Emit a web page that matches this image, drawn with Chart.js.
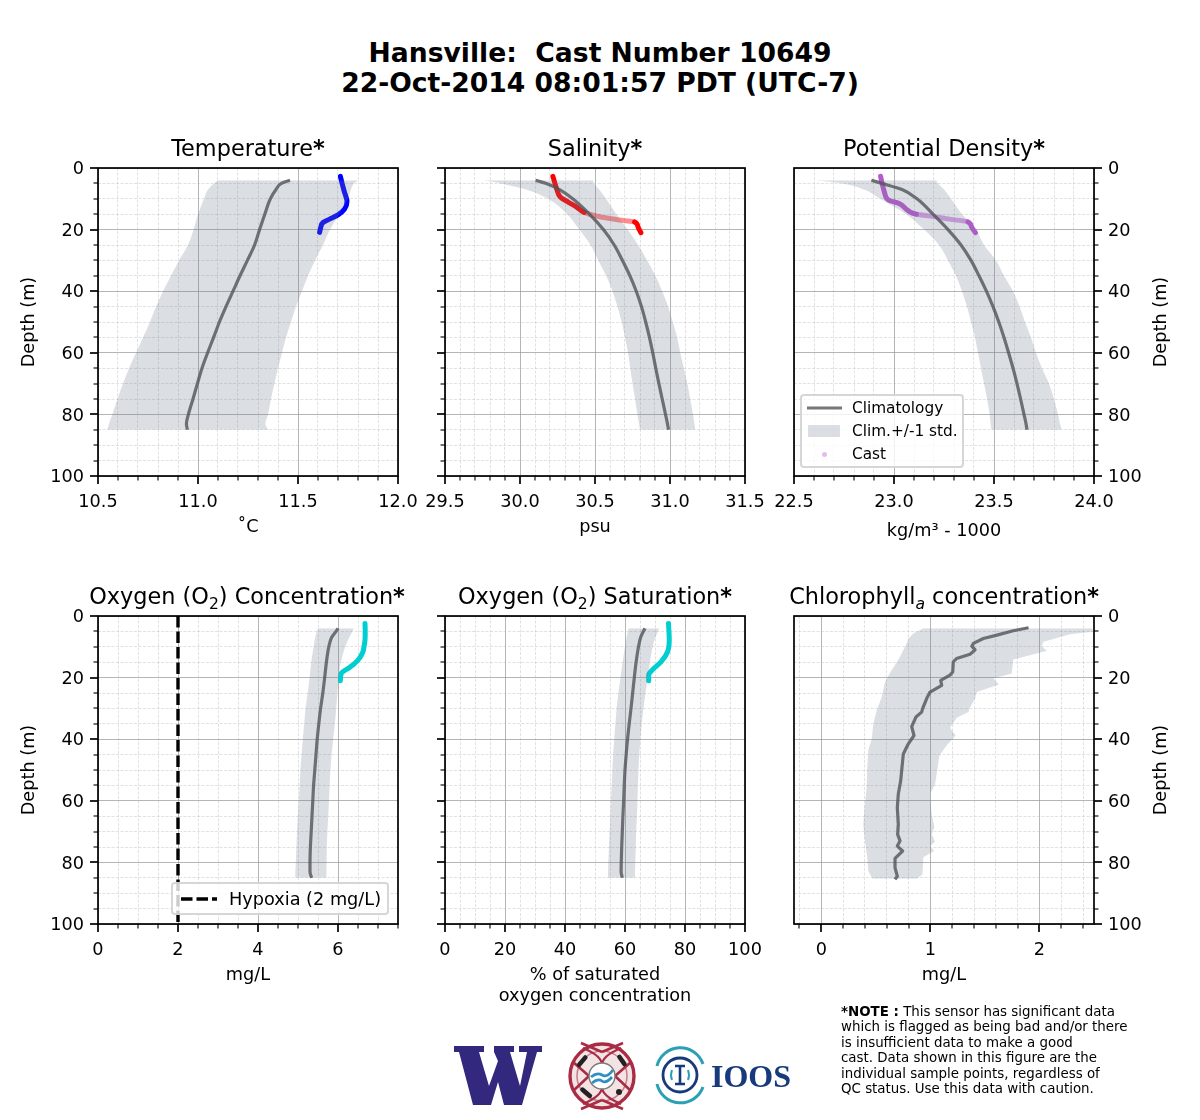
<!DOCTYPE html>
<html>
<head>
<meta charset="utf-8">
<title>Hansville Cast 10649</title>
<script src="https://cdn.jsdelivr.net/npm/chart.js@4/dist/chart.umd.min.js"></script>
<style>
  html, body { margin: 0; padding: 0; background: #fff; }
  body { width: 1200px; height: 1120px; position: relative; overflow: hidden; font-family: "DejaVu Sans", sans-serif; color: #000; }
  canvas { position: absolute; }
  .main-title { position: absolute; left: 0; top: 38px; width: 1200px; text-align: center; font-weight: bold; font-size: 26.6px; line-height: 30px; white-space: pre; }
  .panel-title { position: absolute; text-align: center; font-size: 22.4px; line-height: 26px; white-space: nowrap; }
  .panel-title sub { font-size: 15.6px; line-height: 0; }
  .y-title { position: absolute; font-size: 17.7px; line-height: 20px; width: 120px; text-align: center; transform: rotate(-90deg); white-space: nowrap; }
  .legend { position: absolute; box-sizing: border-box; background: rgba(255,255,255,.8); border: 2px solid rgba(204,204,204,.8); border-radius: 4px; white-space: nowrap; }
  .legend span { position: absolute; }
  .legend svg { position: absolute; overflow: visible; }
  .note { position: absolute; left: 841px; top: 1004px; font-size: 13.4px; line-height: 15.4px; white-space: pre; }
  .logos { position: absolute; left: 0; top: 0; }
</style>
</head>
<body>
<div class="main-title">Hansville:  Cast Number 10649
22-Oct-2014 08:01:57 PDT (UTC-7)</div>

<canvas id="tempChart"></canvas>
<canvas id="salChart"></canvas>
<canvas id="densChart"></canvas>
<canvas id="o2Chart"></canvas>
<canvas id="satChart"></canvas>
<canvas id="chlChart"></canvas>

<div class="panel-title" style="left:98px;top:135px;width:300px">Temperature<b>*</b></div>
<div class="panel-title" style="left:445px;top:135px;width:300px">Salinity<b>*</b></div>
<div class="panel-title" style="left:794px;top:135px;width:300px">Potential Density<b>*</b></div>
<div class="panel-title" style="left:47px;top:583px;width:400px">Oxygen (O<sub>2</sub>) Concentration<b>*</b></div>
<div class="panel-title" style="left:395px;top:583px;width:400px">Oxygen (O<sub>2</sub>) Saturation<b>*</b></div>
<div class="panel-title" style="left:744px;top:583px;width:400px">Chlorophyll<sub><i>a</i></sub> concentration<b>*</b></div>

<div class="y-title" style="left:-32px;top:312px">Depth (m)</div>
<div class="y-title" style="left:1100px;top:312px">Depth (m)</div>
<div class="y-title" style="left:-32px;top:760px">Depth (m)</div>
<div class="y-title" style="left:1100px;top:760px">Depth (m)</div>

<div class="legend" style="left:800px;top:394px;width:164px;height:74px;font-size:15.3px;line-height:18px">
  <svg style="left:0;top:0" width="30" height="10"><line x1="5" y1="12" x2="40" y2="12" stroke="#777" stroke-width="3"/></svg>
  <span style="left:50px;top:3px">Climatology</span>
  <span style="left:6px;top:29px;width:32px;height:12px;background:rgba(112,128,144,.25)"></span>
  <span style="left:50px;top:26px">Clim.+/-1 std.</span>
  <span style="left:20px;top:56px;width:5px;height:5px;border-radius:50%;background:rgba(186,85,211,.4)"></span>
  <span style="left:50px;top:49px">Cast</span>
</div>
<div class="legend" style="left:171px;top:882px;width:218px;height:33px;font-size:17.7px;line-height:20px">
  <svg style="left:0;top:0" width="50" height="30"><line x1="8" y1="15" x2="44" y2="15" stroke="#000" stroke-width="3.4" stroke-dasharray="11.5 4"/></svg>
  <span style="left:56px;top:5px">Hypoxia (2 mg/L)</span>
</div>

<div class="note"><b>*NOTE :</b> This sensor has significant data
which is flagged as being bad and/or there
is insufficient data to make a good
cast. Data shown in this figure are the
individual sample points, regardless of
QC status. Use this data with caution.</div>

<svg class="logos" width="1200" height="1120">
  <!-- UW -->
  <path fill="#32297f" transform="translate(454 1046)" d="M0 0H30V6H25L35 40L44 15L40 6V0H60V6H56L66 40L73 6H65V0H88V6H83L68 59H50L44 36L37 59H19L5 6H0Z"/>
  <!-- medallion -->
  <circle cx="602" cy="1076" r="31" fill="#f3e3e5"/>
  <g fill="none" stroke="#a92c45">
    <circle cx="602" cy="1076" r="32" stroke-width="3.4"/>
    <circle cx="602" cy="1076" r="25" stroke-width="1.6" stroke="#c9818f"/>
    <path stroke-width="2.6" d="M602 1052l-21-9M602 1052l21-9M602 1100l-21 9M602 1100l21 9M573 1062l16 14-16 15M631 1062l-16 14 16 15"/>
    <path stroke-width="2.2" d="M583 1048q19 8 19 17M621 1048q-19 8-19 17M583 1104q19-8 19-17M621 1104q-19-8-19-17"/>
  </g>
  <circle cx="602" cy="1076" r="13" fill="#fff" stroke="#7a7a7a" stroke-width="1.4"/>
  <path fill="none" stroke="#2f8fc4" stroke-width="2.8" d="M591 1077q6-5 11-2t11-5M592 1083q6-5 10-2t10-4"/>
  <g fill="#222">
    <rect x="580" y="1054" width="4.5" height="14" rx="2" transform="rotate(40 582 1061)"/>
    <rect x="620" y="1054" width="4.5" height="13" rx="2" transform="rotate(-35 622 1061)"/>
    <rect x="584" y="1086" width="4.5" height="14" rx="2" transform="rotate(-50 586 1093)"/>
    <circle cx="619" cy="1092" r="3"/>
  </g>
  <!-- IOOS -->
  <g fill="none">
    <path stroke="#2aa0b5" stroke-width="3" d="M657 1066a24 24 0 0 1 46-2M657 1084a24 24 0 0 0 46 3"/>
    <circle cx="680" cy="1075" r="17" stroke="#163a7c" stroke-width="2.8"/>
    <path stroke="#2aa0b5" stroke-width="2" d="M672 1070q-2 5 0 10M688 1070q2 5 0 10"/>
    <path stroke="#163a7c" stroke-width="2.6" d="M675 1066h10M680 1066v18M675 1084h10"/>
  </g>
  <text x="711" y="1087" font-family="Liberation Serif" font-weight="bold" font-size="32" fill="#163a7c" textLength="80" lengthAdjust="spacingAndGlyphs">IOOS</text>
</svg>

<script>
// profile depths (m) shared by the smooth climatology curves
const climDepth = [4, 5, 7, 10, 15, 20, 25, 30, 35, 40, 45, 50, 55, 60, 65, 70, 75, 80, 83, 85];

// temperature
const tempClim = [11.46, 11.417, 11.39, 11.362, 11.334, 11.308, 11.283, 11.247, 11.21, 11.175, 11.14, 11.107, 11.078, 11.048, 11.02, 10.997, 10.975, 10.952, 10.942, 10.947];
const tempLow = [11.10, 11.08, 11.05, 11.03, 11.0, 10.978, 10.95, 10.905, 10.865, 10.825, 10.79, 10.76, 10.725, 10.69, 10.655, 10.625, 10.597, 10.572, 10.555, 10.547];
const tempHigh = [11.805, 11.78, 11.765, 11.75, 11.705, 11.66, 11.625, 11.585, 11.55, 11.52, 11.49, 11.465, 11.44, 11.42, 11.4, 11.382, 11.365, 11.35, 11.337, 11.35];
const tempCastDepth = [2.7, 5.4, 8, 10.8, 13.3, 15.2, 16.6, 17.7, 19.5, 20.9];
const tempCast = [11.712, 11.722, 11.733, 11.745, 11.733, 11.70, 11.658, 11.625, 11.613, 11.608];
const tempTicks = ['10.5', '11.0', '11.5', '12.0'];

// salinity
const salClim = [30.104, 30.175, 30.264, 30.352, 30.463, 30.556, 30.628, 30.683, 30.733, 30.775, 30.81, 30.838, 30.863, 30.885, 30.905, 30.926, 30.948, 30.97, 30.983, 30.99];
const salLow = [29.76, 29.87, 30.04, 30.185, 30.315, 30.395, 30.47, 30.522, 30.575, 30.617, 30.65, 30.678, 30.7, 30.72, 30.735, 30.75, 30.767, 30.783, 30.793, 30.8];
const salHigh = [30.486, 30.493, 30.528, 30.573, 30.643, 30.718, 30.788, 30.848, 30.903, 30.948, 30.988, 31.018, 31.048, 31.068, 31.093, 31.116, 31.135, 31.153, 31.163, 31.168];
const salCastDepth = [2.7, 4.5, 7, 9.4, 11, 12.6, 14.4, 15.6, 16.4, 17, 17.5, 19, 21];
const salCast = [30.219, 30.23, 30.246, 30.268, 30.319, 30.375, 30.428, 30.508, 30.597, 30.686, 30.764, 30.786, 30.806];
const salTicks = ['29.5', '30.0', '30.5', '31.0', '31.5'];

// potential density
const densClim = [22.887, 22.94, 23.04, 23.115, 23.195, 23.27, 23.335, 23.385, 23.425, 23.462, 23.495, 23.524, 23.55, 23.573, 23.595, 23.615, 23.633, 23.65, 23.66, 23.665];
const densLow = [22.61, 22.74, 22.85, 22.93, 23.06, 23.15, 23.225, 23.27, 23.31, 23.34, 23.365, 23.385, 23.405, 23.42, 23.435, 23.45, 23.465, 23.478, 23.483, 23.487];
const densHigh = [23.21, 23.22, 23.25, 23.285, 23.34, 23.41, 23.45, 23.51, 23.55, 23.595, 23.628, 23.655, 23.685, 23.71, 23.74, 23.775, 23.8, 23.82, 23.83, 23.838];
const densCastDepth = [2.7, 5.4, 8, 10.3, 11.6, 13.8, 15, 15.7, 16.6, 17.5, 19, 21];
const densCast = [22.933, 22.942, 22.953, 22.97, 23.028, 23.07, 23.112, 23.195, 23.278, 23.37, 23.387, 23.407];
const densTicks = ['22.5', '23.0', '23.5', '24.0'];

// oxygen concentration
const o2Clim = [6.0, 5.95, 5.84, 5.77, 5.71, 5.667, 5.62, 5.565, 5.52, 5.48, 5.45, 5.42, 5.39, 5.37, 5.35, 5.33, 5.31, 5.3, 5.3, 5.34];
const o2Low = [5.5, 5.47, 5.43, 5.39, 5.33, 5.29, 5.24, 5.19, 5.155, 5.12, 5.09, 5.06, 5.04, 5.02, 4.995, 4.975, 4.96, 4.945, 4.935, 4.93];
const o2High = [6.4, 6.36, 6.28, 6.18, 6.07, 6.02, 5.985, 5.955, 5.92, 5.88, 5.84, 5.81, 5.79, 5.775, 5.755, 5.735, 5.72, 5.715, 5.71, 5.71];
const o2CastDepth = [2.4, 5, 7.8, 10, 11.6, 14.3, 16.7, 18.7, 21];
const o2Cast = [6.675, 6.68, 6.675, 6.65, 6.625, 6.5, 6.29, 6.08, 6.06];
const hypoxiaValue = [2, 2];
const hypoxiaDepth = [0, 100];
const o2Ticks = ['0', '2', '4', '6'];

// oxygen saturation
const satClim = [66.7, 66.1, 65.2, 64.5, 63.7, 63.1, 62.55, 62, 61.4, 60.85, 60.4, 60, 59.75, 59.55, 59.3, 59.1, 58.9, 58.75, 58.7, 59.1];
const satLow = [61.1, 60.95, 60.5, 59.95, 59.2, 58.5, 57.8, 57.2, 56.8, 56.4, 56.05, 55.8, 55.55, 55.3, 55.1, 54.85, 54.65, 54.45, 54.35, 54.3];
const satHigh = [71.4, 71, 70.1, 69.2, 68.3, 67.6, 66.85, 66.15, 65.6, 65.15, 64.75, 64.5, 64.3, 64.15, 63.95, 63.75, 63.6, 63.45, 63.35, 63.3];
const satCastDepth = [2.4, 7.8, 11.6, 14.9, 17.4, 19.2, 21];
const satCast = [74.5, 74.75, 74.2, 72, 69.2, 67.9, 67.9];
const satTicks = ['0', '20', '40', '60', '80', '100'];

// chlorophyll, which is noisy enough to need its own depth lists
const chlClimDepth = [3.8, 4.8, 6.2, 7.3, 8.9, 9.8, 11, 12.4, 13.8, 14.9, 18.2, 19.2, 20.9, 22.5, 24.7, 26.8, 30, 31.2, 32.8, 35.9, 38.8, 41.5, 44.8, 50.2, 53.5, 57.8, 62.2, 67.6, 70.9, 73, 74.7, 76.3, 78.7, 81.7, 84.5, 85.5];
const chlClim = [1.90, 1.76, 1.61, 1.486, 1.394, 1.38, 1.41, 1.364, 1.24, 1.21, 1.205, 1.18, 1.095, 1.104, 0.997, 0.966, 0.93, 0.92, 0.868, 0.829, 0.85, 0.798, 0.752, 0.737, 0.728, 0.706, 0.697, 0.706, 0.70, 0.722, 0.697, 0.746, 0.676, 0.676, 0.697, 0.676];
const chlLowDepth = [4, 5.7, 7.3, 10, 14.3, 17.6, 21.4, 26.3, 30.7, 35, 39.9, 43.7, 49.1, 55.7, 61, 67.6, 73, 78.5, 82.8, 85.3];
const chlLow = [0.936, 0.844, 0.80, 0.768, 0.706, 0.645, 0.584, 0.554, 0.508, 0.477, 0.462, 0.431, 0.422, 0.416, 0.40, 0.385, 0.40, 0.422, 0.431, 0.47];
const chlHighDepth = [4, 5.1, 5.9, 8.4, 9.8, 11.3, 12.2, 14.1, 18.7, 20.3, 22.2, 24.7, 26.8, 29.6, 31.2, 33, 36.3, 38.8, 42, 45.3, 51.3, 54.6, 57.8, 64.3, 68.5, 70.9, 73.3, 74.7, 76.3, 78.3, 83.9, 85.3];
const chlHigh = [2.48, 2.495, 2.28, 2.037, 2.02, 2.067, 1.976, 1.76, 1.746, 1.578, 1.63, 1.425, 1.41, 1.364, 1.349, 1.242, 1.18, 1.232, 1.15, 1.083, 1.058, 1.043, 0.997, 1.012, 1.037, 1.012, 1.043, 0.997, 1.034, 0.936, 0.927, 0.875];
const chlTicks = ['0', '1', '2'];

const depthTicks = ['0', '20', '40', '60', '80', '100'];

const plotW = 300;
const plotH = 308;
const side = 70;
const topPad = 10;
const bottomPad = 95;
const climColor = 'rgba(70,70,70,0.8)';
const bandColor = 'rgba(112,128,144,0.25)';
const tickFont = { family: 'DejaVu Sans', size: 17.7 };

function toPoints(values, depths) {
  return values.map((v, i) => ({ x: v, y: depths[i] }));
}

function isMajor(value, labels) {
  return labels.some(l => Math.abs(parseFloat(l) - value) < 1e-6);
}

// tick marks and the axes box
const frameTicks = {
  id: 'frameTicks',
  afterDatasetsDraw(chart) {
    const { ctx, chartArea: a, scales } = chart;
    const xLabels = chart.options.scales.x.majorLabels;
    ctx.save();
    ctx.strokeStyle = '#000';
    scales.x.ticks.forEach(t => {
      const major = isMajor(t.value, xLabels);
      const px = Math.round(scales.x.getPixelForValue(t.value));
      ctx.lineWidth = major ? 1.7 : 1.1;
      ctx.beginPath();
      ctx.moveTo(px, a.bottom);
      ctx.lineTo(px, a.bottom + (major ? 8 : 4.5));
      ctx.stroke();
    });
    const onRight = scales.y.position === 'right';
    scales.y.ticks.forEach(t => {
      const major = isMajor(t.value, depthTicks);
      const py = Math.round(scales.y.getPixelForValue(t.value));
      const len = major ? 8 : 4.5;
      ctx.lineWidth = major ? 1.7 : 1.1;
      ctx.beginPath();
      ctx.moveTo(onRight ? a.right : a.left, py);
      ctx.lineTo(onRight ? a.right + len : a.left - len, py);
      ctx.stroke();
    });
    ctx.lineWidth = 1.7;
    ctx.strokeRect(a.left, a.top, a.right - a.left, a.bottom - a.top);
    ctx.restore();
  }
};

function gridColor(major) {
  return major ? 'rgba(150,150,150,0.7)' : 'rgba(185,185,185,0.6)';
}

function drawPanel(id, left, top, cfg) {
  const canvas = document.getElementById(id);
  canvas.width = plotW + side * 2;
  canvas.height = plotH + topPad + bottomPad;
  canvas.style.left = (left - side) + 'px';
  canvas.style.top = (top - topPad) + 'px';
  canvas.style.width = canvas.width + 'px';
  canvas.style.height = canvas.height + 'px';

  const smooth = cfg.jagged ? 'default' : 'monotone';
  const datasets = [
    { data: toPoints(cfg.low, cfg.lowDepth || climDepth), borderWidth: 0, pointRadius: 0, fill: false, cubicInterpolationMode: smooth },
    { data: toPoints(cfg.high, cfg.highDepth || climDepth), borderWidth: 0, pointRadius: 0, fill: '-1', backgroundColor: bandColor, cubicInterpolationMode: smooth },
    { data: toPoints(cfg.clim, cfg.climDepth || climDepth), borderColor: climColor, borderWidth: 3.2, pointRadius: 0, fill: false, borderCapStyle: 'butt', borderJoinStyle: 'round', cubicInterpolationMode: smooth }
  ];
  if (cfg.castDepth) {
    const fade = cfg.fade;
    datasets.push({
      data: toPoints(cfg.cast, cfg.castDepth), borderColor: cfg.castColor, borderWidth: 5, pointRadius: 0, fill: false,
      borderCapStyle: 'round', borderJoinStyle: 'round', cubicInterpolationMode: 'monotone',
      segment: fade ? {
        borderColor: c => (c.p0.parsed.y >= fade[0] && c.p1.parsed.y <= fade[1]) ? fade[2] : undefined
      } : undefined
    });
  }
  if (cfg.extra) datasets.push(cfg.extra);

  new Chart(canvas, {
    type: 'line',
    data: { datasets },
    plugins: [frameTicks],
    options: {
      indexAxis: 'y',
      responsive: false,
      animation: false,
      devicePixelRatio: 1,
      layout: { padding: { top: topPad, left: cfg.rightAxis ? side : 0, right: cfg.rightAxis ? 0 : side, bottom: 0 } },
      plugins: { legend: { display: false }, tooltip: { enabled: false }, title: { display: false } },
      scales: {
        x: {
          type: 'linear',
          min: cfg.min,
          max: cfg.max,
          majorLabels: cfg.ticks,
          afterFit(s) { s.height = bottomPad; s.paddingLeft = 0; s.paddingRight = 0; },
          grid: {
            drawTicks: false,
            color: c => gridColor(isMajor(c.tick.value, cfg.ticks)),
            lineWidth: c => isMajor(c.tick.value, cfg.ticks) ? 1 : 0.7
          },
          border: { display: false, dash: c => isMajor(c.tick.value, cfg.ticks) ? [] : [3, 1.5] },
          title: { display: true, text: cfg.xTitle, font: { family: 'DejaVu Sans', size: 17.7, lineHeight: 1.19 }, color: '#000', padding: { top: 0, bottom: cfg.titlePad } },
          ticks: {
            stepSize: cfg.step,
            includeBounds: false,
            autoSkip: false,
            maxRotation: 0,
            minRotation: 0,
            padding: 15.5,
            color: '#000',
            font: tickFont,
            callback: v => cfg.ticks.find(l => Math.abs(parseFloat(l) - v) < 1e-6) || ''
          }
        },
        y: {
          type: 'linear',
          position: cfg.rightAxis ? 'right' : 'left',
          reverse: true,
          min: 0,
          max: 100,
          afterFit(s) { s.width = side; s.paddingTop = 0; s.paddingBottom = 0; },
          grid: {
            drawTicks: false,
            color: c => gridColor(isMajor(c.tick.value, depthTicks)),
            lineWidth: c => isMajor(c.tick.value, depthTicks) ? 1 : 0.7
          },
          border: { display: false, dash: c => isMajor(c.tick.value, depthTicks) ? [] : [3, 1.5] },
          ticks: {
            stepSize: 5,
            autoSkip: false,
            padding: 14,
            labelOffset: 1.5,
            color: '#000',
            font: tickFont,
            callback: v => cfg.hideDepth ? '' : (depthTicks.find(l => parseFloat(l) === v) || '')
          }
        }
      }
    }
  });
}

drawPanel('tempChart', 98, 168, {
  low: tempLow, high: tempHigh, clim: tempClim,
  cast: tempCast, castDepth: tempCastDepth, castColor: '#0000ff',
  min: 10.5, max: 12, step: 0.1, ticks: tempTicks, xTitle: '˚C', titlePad: 33
});
drawPanel('salChart', 445, 168, {
  low: salLow, high: salHigh, clim: salClim,
  cast: salCast, castDepth: salCastDepth, castColor: '#ff0000', fade: [14.4, 17.5, 'rgba(255,0,0,0.45)'],
  min: 29.5, max: 31.5, step: 0.1, ticks: salTicks, xTitle: 'psu', titlePad: 33, hideDepth: true
});
drawPanel('densChart', 794, 168, {
  low: densLow, high: densHigh, clim: densClim,
  cast: densCast, castDepth: densCastDepth, castColor: '#ba55d3', fade: [15, 17.5, 'rgba(186,85,211,0.55)'],
  min: 22.5, max: 24, step: 0.1, ticks: densTicks, xTitle: 'kg/m³ - 1000', titlePad: 29, rightAxis: true
});
drawPanel('o2Chart', 98, 616, {
  low: o2Low, high: o2High, clim: o2Clim,
  cast: o2Cast, castDepth: o2CastDepth, castColor: '#00ced1',
  extra: { data: toPoints(hypoxiaValue, hypoxiaDepth), borderColor: '#000', borderWidth: 3.4, borderDash: [11.5, 4], pointRadius: 0, fill: false },
  min: 0, max: 7.5, step: 0.5, ticks: o2Ticks, xTitle: 'mg/L', titlePad: 33
});
drawPanel('satChart', 445, 616, {
  low: satLow, high: satHigh, clim: satClim,
  cast: satCast, castDepth: satCastDepth, castColor: '#00ced1',
  min: 0, max: 100, step: 5, ticks: satTicks, xTitle: ['% of saturated', 'oxygen concentration'], titlePad: 12, hideDepth: true
});
drawPanel('chlChart', 794, 616, {
  low: chlLow, lowDepth: chlLowDepth, high: chlHigh, highDepth: chlHighDepth, clim: chlClim, climDepth: chlClimDepth, jagged: true,
  min: -0.25, max: 2.5, step: 0.2, ticks: chlTicks, xTitle: 'mg/L', titlePad: 33, rightAxis: true
});
</script>
</body>
</html>
